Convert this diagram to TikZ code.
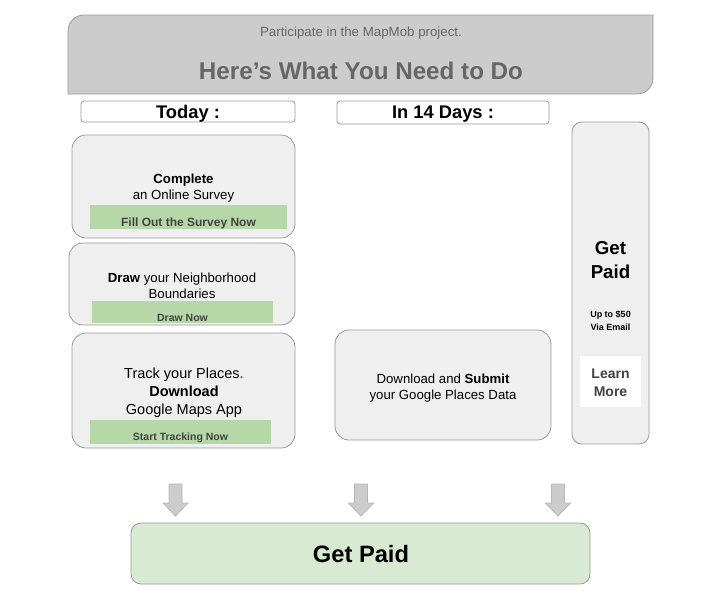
\documentclass[tikz,border=0pt]{standalone}
\usepackage{fontspec}
\setmainfont{Liberation Sans}
\definecolor{hdrfill}{HTML}{CCCCCC}
\definecolor{edge}{HTML}{999999}
\definecolor{cardfill}{HTML}{EFEFEF}
\definecolor{barfill}{HTML}{B6D7A8}
\definecolor{paidfill}{HTML}{D9EAD3}
\definecolor{hdrtext}{HTML}{666666}
\definecolor{bartext}{HTML}{434343}
\definecolor{arrowfill}{HTML}{CCCCCC}
\definecolor{arrowedge}{HTML}{B7B7B7}
\tikzset{
  card/.style={draw=edge, fill=cardfill, rounded corners=14pt, line width=0.8pt, inner sep=0pt},
  labelbox/.style={draw=edge, fill=white, rounded corners=3pt, line width=0.8pt, inner sep=0pt},
  bar/.style={fill=barfill, inner sep=0pt},
  bartxt/.style={font=\fontsize{10.5}{12}\selectfont\bfseries, text=bartext, inner sep=0pt},
  bodytxt/.style={align=center, inner sep=0pt},
  blockarrow/.style={draw=arrowedge, fill=arrowfill, line width=0.8pt},
}
\newcommand{\downarrowat}[2]{%
  \coordinate (#2) at (#1,500);
  \draw[blockarrow] (#1-6.5,484) -- (#1+6.5,484) -- (#1+6.5,503) -- (#1+12.5,503) -- (#1,516) -- (#1-12.5,503) -- (#1-6.5,503) -- cycle;}
\begin{document}
\begin{tikzpicture}[x=1pt,y=-1pt]
\useasboundingbox (0,0) rectangle (708,597);
% header
\draw[draw=edge, fill=hdrfill, line width=0.8pt] (68,94) -- (68,31) arc[start angle=180,end angle=270,radius=16] -- (653,15) -- (653,78) arc[start angle=0,end angle=90,radius=16] -- cycle;
\node[text=hdrtext, font=\fontsize{13.3}{15}\selectfont, inner sep=0pt] (sub) at (361,33.5) {Participate in the MapMob project.};
\node[text=hdrtext, font=\fontsize{24.2}{28}\selectfont\bfseries, inner sep=0pt] (title) at (361,71) {Here’s What You Need to Do};
% column labels
\node[labelbox, minimum width=214pt, minimum height=21pt] (today) at (188,111.5) {};
\node[font=\fontsize{18.3}{20}\selectfont\bfseries, inner sep=0pt] (todaytxt) at (188,113.5) {Today :};
\node[labelbox, minimum width=212pt, minimum height=23pt] (days) at (443,112.5) {};
\node[font=\fontsize{18.3}{20}\selectfont\bfseries, inner sep=0pt] (daystxt) at (443,114.5) {In 14 Days :};
% card 1
\node[card, minimum width=223pt, minimum height=103pt] (c1) at (183.5,186.5) {};
\node[bodytxt, font=\fontsize{13.2}{16}\selectfont] (c1t) at (183.5,188.5) {\textbf{Complete}\\an Online Survey};
\node[bar, minimum width=197pt, minimum height=24pt] (b1) at (188.5,217) {};
\node[font=\fontsize{12}{14}\selectfont\bfseries, text=bartext, inner sep=0pt] (b1t) at (188.5,223) {Fill Out the Survey Now};
% card 2
\node[card, minimum width=226pt, minimum height=82pt] (c2) at (182,284) {};
\node[bodytxt, font=\fontsize{13.2}{16}\selectfont] (c2t) at (182,286) {\textbf{Draw} your Neighborhood\\Boundaries};
\node[bar, minimum width=181pt, minimum height=22pt] (b2) at (182.5,312) {};
\node[bartxt] (b2t) at (182.5,318) {Draw Now};
% card 3
\node[card, minimum width=223pt, minimum height=115pt] (c3) at (183.5,390.5) {};
\node[bodytxt, font=\fontsize{14.5}{18}\selectfont] (c3t) at (184,392.5) {Track your Places.\\\textbf{Download}\\Google Maps App};
\node[bar, minimum width=181pt, minimum height=24pt] (b3) at (180.5,432) {};
\node[bartxt] (b3t) at (180.5,437.5) {Start Tracking Now};
% card 4
\node[card, minimum width=216pt, minimum height=110pt] (c4) at (443,385) {};
\node[bodytxt, font=\fontsize{13.2}{16}\selectfont] (c4t) at (443,388) {Download and \textbf{Submit}\\your Google Places Data};
% right column
\node[card, minimum width=77pt, minimum height=322pt, rounded corners=10pt] (c5) at (610.5,283) {};
\node[bodytxt, font=\fontsize{18.7}{24}\selectfont\bfseries] (c5t) at (610.5,260.5) {Get\\Paid};
\node[bodytxt, font=\fontsize{9}{13}\selectfont\bfseries] (c5s) at (610.5,321) {Up to \$50\\Via Email};
\node[fill=white, minimum width=61pt, minimum height=51pt, inner sep=0pt] (learn) at (610.5,381.5) {};
\node[bodytxt, text=bartext, font=\fontsize{14}{18}\selectfont\bfseries] (learnt) at (610.5,382.5) {Learn\\More};
% arrows
\downarrowat{175.5}{a1}
\downarrowat{361}{a2}
\downarrowat{558}{a3}
% bottom box
\node[draw=edge, fill=paidfill, rounded corners=10pt, line width=0.8pt, minimum width=459pt, minimum height=61pt, inner sep=0pt] (paid) at (360.5,553.5) {};
\node[font=\fontsize{23.7}{26}\selectfont\bfseries, inner sep=0pt] (paidt) at (361,554) {Get Paid};
\end{tikzpicture}
\end{document}
